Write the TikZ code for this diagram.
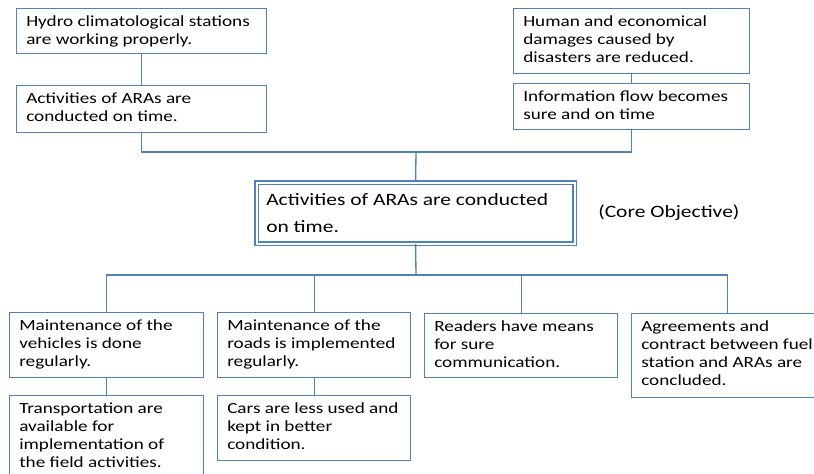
\documentclass[tikz,border=0pt]{standalone}
\usepackage{fontspec}
\setmainfont{Carlito}[FakeStretch=1.24]
\definecolor{lineblue}{HTML}{4F81BD}
\tikzset{
  box/.style={draw=lineblue, line width=1pt, rectangle, inner sep=0pt},
  corebox/.style={draw=lineblue, line width=0.9pt, double=white, double distance=1.5pt, rectangle, inner sep=0pt},
  txt/.style={inner sep=0pt, align=left, anchor=north west, font=\fontsize{11.6}{13.5}\selectfont},
  bigtxt/.style={inner sep=0pt, align=left, anchor=north west, font=\fontsize{13}{20.25}\selectfont},
  conn/.style={draw=lineblue, line width=1pt}
}
\newcommand\bx[6]{%
  \node[box, minimum width={(#4-#2)*0.75pt}, minimum height={(#5-#3)*0.75pt}, anchor=north west] (#1) at (#2,#3) {};
  \node[txt] (#1t) at ([xshift=7.5pt, yshift=-4.05pt]#1.north west) {\strut #6};
}
\begin{document}
\begin{tikzpicture}[x=0.75pt, y=-0.75pt]
\useasboundingbox (0,0) rectangle (814,474);
\clip (0,0) rectangle (814,474);
\fill[white] (0,0) rectangle (814,474);
\bx{b1}{16}{8}{266}{53}{Hydro climatological stations\\are working properly.}
\bx{b2}{16}{85}{266}{132}{Activities of ARAs are\\conducted on time.}
\bx{b3}{513}{8}{749}{73}{Human and economical\\damages caused by\\disasters are reduced.}
\bx{b4}{513}{83}{749}{129}{Information flow becomes\\sure and on time}
\node[corebox, minimum width={318*0.75pt}, minimum height={61*0.75pt}, anchor=north west] (core) at (256,182) {};
\node[bigtxt] (coret) at ([xshift=7.5pt, yshift=-3.3pt]core.north west) {\strut Activities of ARAs are conducted\\on time.};
\node[inner sep=0pt, anchor=base west, font=\fontsize{13}{20.25}\selectfont] (corelabel) at (598,218) {(Core Objective)};
\bx{A}{9}{312}{203}{377}{Maintenance of the\\vehicles is done\\regularly.}
\bx{A2}{9}{395}{203}{490}{Transportation are\\available for\\implementation of\\the field activities.}
\bx{B}{217}{312}{410}{377}{Maintenance of the\\roads is implemented\\regularly.}
\bx{B2}{217}{395}{410}{460}{Cars are less used and\\kept in better\\condition.}
\bx{C}{424}{313}{617}{377}{Readers have means\\for sure\\communication.}
\bx{D}{631}{313}{823}{397}{Agreements and\\contract between fuel\\station and ARAs are\\concluded.}
\coordinate (tj) at (416,152);
\coordinate (bj) at (416,275);
\draw[conn] (b1.south) -- (b2.north);
\draw[conn] (b3.south) -- (b4.north);
\draw[conn] (b2.south) -- (b2.south |- tj) -- (b4.south |- tj) -- (b4.south);
\draw[conn] (tj) -- (core.north);
\draw[conn] (core.south) -- (bj);
\draw[conn] (A.north) -- (A.north |- bj) -- (D.north |- bj) -- (D.north);
\draw[conn] (B.north) -- (B.north |- bj);
\draw[conn] (C.north) -- (C.north |- bj);
\draw[conn] (A.south) -- (A2.north);
\draw[conn] (B.south) -- (B2.north);
\end{tikzpicture}
\end{document}
